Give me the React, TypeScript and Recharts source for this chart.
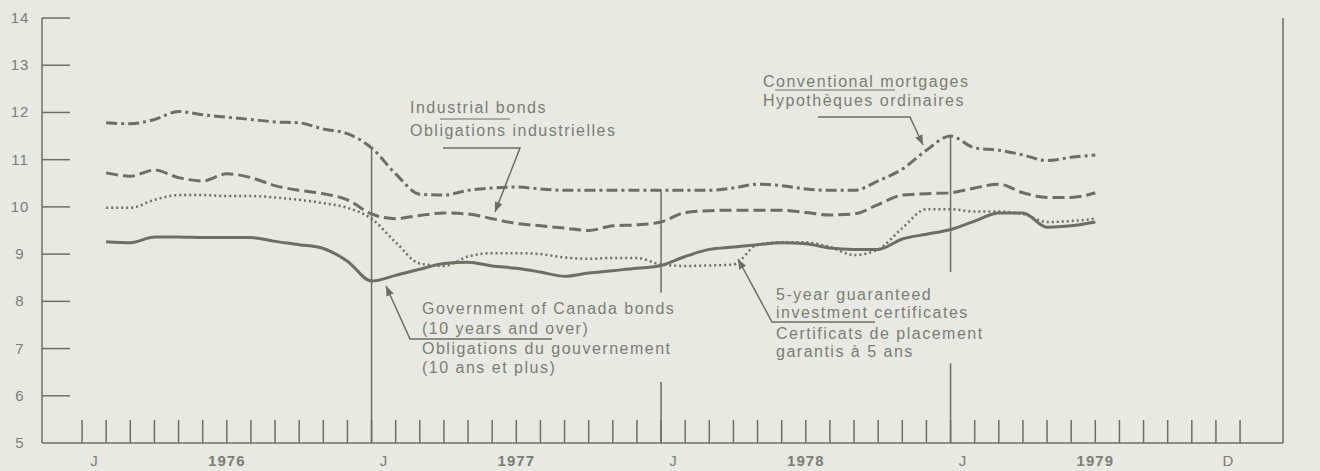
import React from "react";
import { LineChart, Line, XAxis, YAxis, ReferenceLine } from "recharts";

// monthly averages, Jan 1976 .. Jun 1979 (per cent)
const months = Array.from(
  { length: 42 },
  (_, i) => `${1976 + Math.floor(i / 12)}-${String((i % 12) + 1).padStart(2, "0")}`
);

const mortgages = [
  11.78, 11.76, 11.85, 12.02, 11.95, 11.9, 11.85, 11.8, 11.78, 11.65, 11.55, 11.25,
  10.7, 10.27, 10.25, 10.35, 10.4, 10.42, 10.38, 10.35, 10.35, 10.35, 10.35, 10.35,
  10.35, 10.35, 10.4, 10.48, 10.45, 10.38, 10.35, 10.35, 10.55, 10.8, 11.2, 11.5,
  11.25, 11.2, 11.1, 10.98, 11.05, 11.1,
];
const industrials = [
  10.72, 10.65, 10.78, 10.62, 10.55, 10.7, 10.62, 10.45, 10.35, 10.28, 10.15, 9.85,
  9.75, 9.82, 9.87, 9.85, 9.75, 9.65, 9.6, 9.55, 9.5, 9.6, 9.62, 9.68,
  9.88, 9.92, 9.93, 9.93, 9.93, 9.88, 9.83, 9.85, 10.05, 10.25, 10.28, 10.3,
  10.4, 10.48, 10.3, 10.2, 10.2, 10.3,
];
const gics = [
  9.98, 9.98, 10.15, 10.25, 10.25, 10.23, 10.23, 10.2, 10.15, 10.08, 9.98, 9.75,
  9.25, 8.8, 8.75, 8.95, 9.02, 9.02, 9.0, 8.93, 8.9, 8.92, 8.92, 8.78,
  8.75, 8.76, 8.78, 9.2, 9.25, 9.25, 9.15, 8.98, 9.1, 9.55, 9.95, 9.95,
  9.9, 9.9, 9.85, 9.68, 9.7, 9.75,
];
const govBonds = [
  9.26, 9.24, 9.36, 9.36, 9.35, 9.35, 9.35, 9.27, 9.2, 9.12, 8.85, 8.43,
  8.55, 8.68, 8.8, 8.83, 8.75, 8.7, 8.62, 8.53, 8.6, 8.65, 8.7, 8.76,
  8.95, 9.1, 9.15, 9.2, 9.24, 9.22, 9.13, 9.1, 9.1, 9.32, 9.42, 9.52,
  9.7, 9.87, 9.87, 9.57, 9.6, 9.68,
];

const yTicks = [5, 6, 7, 8, 9, 10, 11, 12, 13, 14];
const years = ["1976", "1977", "1978", "1979"];
const edgeLetters = [
  { at: 0.5, text: "J" },
  { at: 12.5, text: "J" },
  { at: 24.5, text: "J" },
  { at: 36.5, text: "J" },
  { at: 47.5, text: "D" },
];
const monthBounds = Array.from({ length: 49 }, (_, i) => i);

// each month plotted at its end
const data = months.map((m, i) => ({
  month: m,
  t: i + 1,
  mortgages: mortgages[i],
  industrials: industrials[i],
  gics: gics[i],
  govBonds: govBonds[i],
}));

const BG = "#e8e9e3";
const INK = "#6b7062";
const TEXT = "#7a7e73";
const FONT = "'Liberation Sans', Arial, Helvetica, sans-serif";

const W = 1320;
const H = 471;
const LEFT = 42;
const RIGHT = 1283;
const BASE = 443;

const xTicks = [...monthBounds, ...edgeLetters.map((e) => e.at)];

const MonthTick = (props: any) => {
  const { x, payload } = props;
  const v = payload.value as number;
  const parts: React.ReactNode[] = [];
  if (Number.isInteger(v)) {
    parts.push(
      <line key="l" x1={x} x2={x} y1={BASE} y2={BASE - 23} stroke={INK} strokeWidth={1.5} />
    );
    if (v % 12 === 6) {
      parts.push(
        <text
          key="y"
          x={x}
          y={466}
          textAnchor="middle"
          fontSize={15}
          fontWeight="bold"
          letterSpacing={1}
          fill={TEXT}
        >
          {years[(v - 6) / 12]}
        </text>
      );
    }
  } else {
    const e = edgeLetters.find((d) => d.at === v);
    if (e)
      parts.push(
        <text key="e" x={x} y={466} textAnchor="middle" fontSize={15} fill={TEXT}>
          {e.text}
        </text>
      );
  }
  return <g>{parts}</g>;
};

const LeftTick = (props: any) => {
  const { y, payload } = props;
  return (
    <g>
      {payload.value > 5 && (
        <line x1={LEFT} x2={LEFT + 28} y1={y} y2={y} stroke={INK} strokeWidth={1.5} />
      )}
      <text x={20} y={y + 5} textAnchor="middle" fontSize={15} letterSpacing={1} fill={TEXT}>
        {payload.value}
      </text>
    </g>
  );
};

const RightTick = (props: any) => {
  const { y, payload } = props;
  return (
    <g>
      {payload.value > 5 && (
        <line x1={RIGHT - 26} x2={RIGHT} y1={y} y2={y} stroke={INK} strokeWidth={1.5} />
      )}
      <text x={1304} y={y + 5} textAnchor="middle" fontSize={15} letterSpacing={1} fill={TEXT}>
        {payload.value}
      </text>
    </g>
  );
};

const Note = ({ x, lines }: { x: number; lines: [string, number][] }) => (
  <>
    {lines.map(([s, y]) => (
      <text key={s} x={x} y={y} fontSize={16} letterSpacing={1.5} fill={TEXT}>
        {s}
      </text>
    ))}
  </>
);

export default function App() {
  return (
    <div
      style={{
        position: "absolute",
        left: 0,
        top: 0,
        width: W,
        height: H,
        background: BG,
        fontFamily: FONT,
        overflow: "hidden",
      }}
    >
      <LineChart
        width={W}
        height={H}
        data={data}
        margin={{ top: 18, right: 0, bottom: 0, left: 0 }}
        style={{ fontFamily: FONT }}
      >
        <XAxis
          xAxisId="x"
          type="number"
          dataKey="t"
          domain={[-1.66, 49.78]}
          ticks={xTicks}
          interval={0}
          tick={<MonthTick />}
          tickLine={false}
          axisLine={{ stroke: INK, strokeWidth: 1.5 }}
          height={28}
          allowDataOverflow
        />
        <YAxis
          yAxisId="l"
          domain={[5, 14]}
          ticks={yTicks}
          interval={0}
          width={LEFT}
          tick={<LeftTick />}
          tickLine={false}
          axisLine={{ stroke: INK, strokeWidth: 1.5 }}
        />
        <YAxis
          yAxisId="r"
          orientation="right"
          domain={[5, 14]}
          ticks={yTicks}
          interval={0}
          width={W - RIGHT}
          tick={<RightTick />}
          tickLine={false}
          axisLine={{ stroke: INK, strokeWidth: 1.5 }}
        />

        <ReferenceLine
          xAxisId="x"
          yAxisId="l"
          segment={[{ x: 12, y: 5 }, { x: 12, y: mortgages[11] }]}
          stroke={INK}
          strokeWidth={1.5}
        />
        <ReferenceLine
          xAxisId="x"
          yAxisId="l"
          segment={[{ x: 24, y: 5 }, { x: 24, y: 6.29 }]}
          stroke={INK}
          strokeWidth={1.5}
        />
        <ReferenceLine
          xAxisId="x"
          yAxisId="l"
          segment={[{ x: 24, y: 8.18 }, { x: 24, y: mortgages[23] }]}
          stroke={INK}
          strokeWidth={1.5}
        />
        <ReferenceLine
          xAxisId="x"
          yAxisId="l"
          segment={[{ x: 36, y: 5 }, { x: 36, y: 6.69 }]}
          stroke={INK}
          strokeWidth={1.5}
        />
        <ReferenceLine
          xAxisId="x"
          yAxisId="l"
          segment={[{ x: 36, y: 8.62 }, { x: 36, y: mortgages[35] }]}
          stroke={INK}
          strokeWidth={1.5}
        />

        <Line
          xAxisId="x"
          yAxisId="l"
          dataKey="mortgages"
          type="monotone"
          stroke={INK}
          strokeWidth={3}
          strokeDasharray="11 4 3 4"
          dot={false}
          isAnimationActive={false}
        />
        <Line
          xAxisId="x"
          yAxisId="l"
          dataKey="industrials"
          type="monotone"
          stroke={INK}
          strokeWidth={3}
          strokeDasharray="12 5"
          dot={false}
          isAnimationActive={false}
        />
        <Line
          xAxisId="x"
          yAxisId="l"
          dataKey="gics"
          type="monotone"
          stroke={INK}
          strokeWidth={2.5}
          strokeDasharray="2 3"
          dot={false}
          isAnimationActive={false}
        />
        <Line
          xAxisId="x"
          yAxisId="l"
          dataKey="govBonds"
          type="monotone"
          stroke={INK}
          strokeWidth={3}
          dot={false}
          isAnimationActive={false}
        />
      </LineChart>

      <svg
        width={W}
        height={H}
        style={{ position: "absolute", left: 0, top: 0, pointerEvents: "none", fontFamily: FONT }}
      >
        <defs>
          <marker
            id="ah"
            markerWidth="10"
            markerHeight="8"
            refX="10"
            refY="4"
            orient="auto"
            markerUnits="userSpaceOnUse"
          >
            <path d="M0,0 L10,4 L0,8 z" fill={INK} />
          </marker>
        </defs>

        <Note x={410} lines={[["Industrial bonds", 113], ["Obligations industrielles", 136]]} />
        <line x1={440} x2={510} y1={119} y2={119} stroke={INK} strokeWidth={1.2} />
        <polyline
          points="443,148 520,148 495,212"
          fill="none"
          stroke={INK}
          strokeWidth={1.5}
          markerEnd="url(#ah)"
        />

        <Note x={763} lines={[["Conventional mortgages", 87], ["Hypothèques ordinaires", 106]]} />
        <line x1={775} x2={895} y1={90} y2={90} stroke={INK} strokeWidth={1.2} />
        <polyline
          points="818,117 910,117 923,145"
          fill="none"
          stroke={INK}
          strokeWidth={1.5}
          markerEnd="url(#ah)"
        />

        <Note
          x={422}
          lines={[
            ["Government of Canada bonds", 314],
            ["(10 years and over)", 334],
            ["Obligations du gouvernement", 354],
            ["(10 ans et plus)", 373],
          ]}
        />
        <polyline
          points="552,339 410,339 386,286"
          fill="none"
          stroke={INK}
          strokeWidth={1.5}
          markerEnd="url(#ah)"
        />

        <Note
          x={776}
          lines={[
            ["5-year guaranteed", 300],
            ["investment certificates", 318],
            ["Certificats de placement", 339],
            ["garantis à 5 ans", 357],
          ]}
        />
        <polyline
          points="875,322 772,322 738,259"
          fill="none"
          stroke={INK}
          strokeWidth={1.5}
          markerEnd="url(#ah)"
        />
      </svg>
    </div>
  );
}
